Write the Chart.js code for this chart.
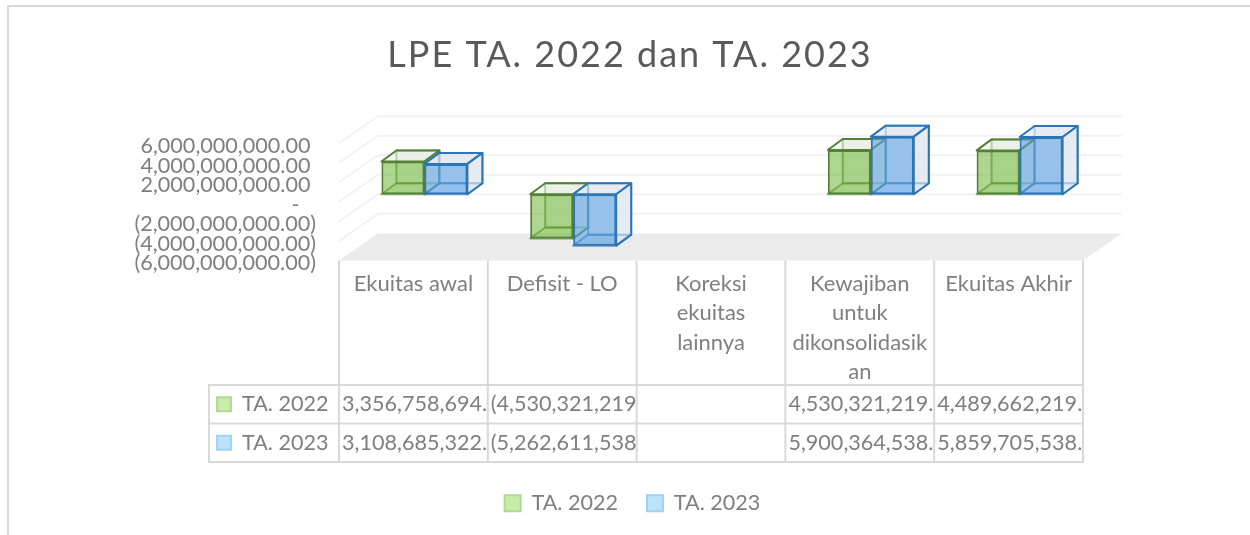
<!DOCTYPE html>
<html>
<head>
<meta charset="utf-8">
<style>
html, body { margin: 0; padding: 0; background: #fff; }
#wrap { width: 1250px; height: 535px; }
</style>
<script src="https://cdn.jsdelivr.net/npm/chart.js@4"></script>
</head>
<body>
<div id="wrap"><canvas id="lpe-chart"></canvas></div>
<script>
const chart_title = 'LPE TA. 2022 dan TA. 2023';
const categories = [
   ['Ekuitas awal'],
   ['Defisit - LO'],
   ['Koreksi', 'ekuitas', 'lainnya'],
   ['Kewajiban', 'untuk', 'dikonsolidasik', 'an'],
   ['Ekuitas Akhir']
];
const series_names = ['TA. 2022', 'TA. 2023'];
const values_2022 = [3356758694, -4530321219, null, 4530321219, 4489662219];
const values_2023 = [3108685322, -5262611538, null, 5900364538, 5859705538];
const tick_values = [6000000000, 4000000000, 2000000000, 0, -2000000000, -4000000000, -6000000000];

const font_name = 'Lato, "Noto Sans", sans-serif';
const text_grey = '#7f7f7f';
const line_grey = '#d9d9d9';

//wyglad pudelek 3d dla obu serii
const box_styles = [
   { edge: '#548235', front: 'rgba(108,180,53,0.55)', side: 'rgba(232,236,230,0.55)', key: '#c9eba8', keyEdge: '#b0d994' },
   { edge: '#2e75b6', front: 'rgba(92,162,228,0.6)', side: 'rgba(226,232,238,0.65)', key: '#bde3fa', keyEdge: '#9fd2f6' }
];

//przesuniecia glebi: cala podloga i pojedynczy slupek
const wall_dx = 39, wall_dy = -30;
const floor_lift = 3;
const box_dx = 15, box_dy = -11;
const bar_shift = 11;

function money(v) {
   return v.toLocaleString('en-US', { minimumFractionDigits: 2, maximumFractionDigits: 2 });
}

function tickText(v) {
   if (v === 0) return '-\u00a0\u00a0\u00a0';
   if (v < 0) return '(' + money(-v) + ')';
   return money(v) + '\u00a0';
}

function cellText(v) {
   if (v === null) return '';
   return v < 0 ? '(' + money(-v) + ')' : money(v);
}

function poly(ctx, pts) {
   ctx.beginPath();
   pts.forEach((p, i) => i ? ctx.lineTo(p[0], p[1]) : ctx.moveTo(p[0], p[1]));
   ctx.closePath();
}

//pudelko: tyl, dno, gora i bok, a na koncu przednia sciana z chart.js
function drawBox(chart, index) {
   const ctx = chart.ctx;
   const st = box_styles[index];
   const meta = chart.getDatasetMeta(index);
   ctx.save();
   ctx.lineWidth = 2;
   ctx.lineJoin = 'round';
   ctx.strokeStyle = st.edge;
   meta.data.forEach((bar, i) => {
      if (chart.data.datasets[index].data[i] === null) return;
      const p = bar.getProps(['x', 'y', 'base', 'width'], true);
      const l = p.x - p.width / 2, r = p.x + p.width / 2;
      const top = Math.min(p.y, p.base), bot = Math.max(p.y, p.base);
      const d = (x, yy) => [x + box_dx, yy + box_dy];
      ctx.fillStyle = st.side;
      poly(ctx, [d(l, top), d(r, top), d(r, bot), d(l, bot)]);
      ctx.fill();
      ctx.fillStyle = st.front;
      ctx.globalAlpha = 0.25;
      poly(ctx, [[l, bot], [r, bot], d(r, bot), d(l, bot)]);
      ctx.fill();
      ctx.globalAlpha = 0.7;
      poly(ctx, [d(l, top), d(r, top), d(r, bot), d(l, bot)]);
      ctx.stroke();
      poly(ctx, [[l, bot], [r, bot], d(r, bot), d(l, bot)]);
      ctx.stroke();
      ctx.globalAlpha = 1;
      ctx.fillStyle = st.side;
      poly(ctx, [[l, top], [r, top], d(r, top), d(l, top)]);
      ctx.fill();
      ctx.stroke();
      poly(ctx, [[r, top], [r, bot], d(r, bot), d(r, top)]);
      ctx.fill();
      ctx.stroke();
      bar.draw(ctx);
   });
   ctx.restore();
}

//tylne sciany, podloga i linie siatki
const wallPlugin = {
   id: 'wall',
   afterLayout(chart) {
      chart.legend.left += 5;
      //rozstrzelony tytul jak w oryginale
      const block = chart.titleBlock;
      if (!block.spaced) {
         const draw_title = block.draw.bind(block);
         block.spaced = true;
         block.draw = function() {
            chart.ctx.letterSpacing = '2px';
            draw_title();
            chart.ctx.letterSpacing = '0px';
         };
      }
   },
   beforeDatasetsDraw(chart) {
      const ctx = chart.ctx;
      const y = chart.scales.y;
      const left = chart.chartArea.left - bar_shift;
      const right = chart.chartArea.right - bar_shift;
      const floor_py = y.getPixelForValue(-6000000000);
      ctx.save();
      ctx.fillStyle = '#ebebeb';
      poly(ctx, [[left, floor_py - floor_lift], [right, floor_py - floor_lift], [right + wall_dx, floor_py + wall_dy], [left + wall_dx, floor_py + wall_dy]]);
      ctx.fill();
      ctx.strokeStyle = '#f2f2f2';
      ctx.lineWidth = 2;
      tick_values.forEach(v => {
         if (v === -6000000000) return;
         const py = y.getPixelForValue(v);
         ctx.beginPath();
         ctx.moveTo(left, py - floor_lift);
         ctx.lineTo(left + wall_dx, py + wall_dy);
         ctx.lineTo(right + wall_dx, py + wall_dy);
         ctx.stroke();
      });
      ctx.restore();
      //chart.js rysuje lewy slupek na wierzchu, tu potrzebna odwrotna kolejnosc
      drawBox(chart, 0);
      drawBox(chart, 1);
   },
   beforeDatasetDraw() {
      return false;
   },
   //ramka calego wykresu i tabela danych
   afterDraw(chart) {
      const ctx = chart.ctx;
      const left = chart.chartArea.left - bar_shift;
      const right = chart.chartArea.right - bar_shift;
      const cell = (right - left) / categories.length;
      const top = chart.scales.y.getPixelForValue(-6000000000) - floor_lift;
      const row_lines = [385, 423.5, 462];
      const head_left = 209;
      ctx.save();
      ctx.strokeStyle = line_grey;
      ctx.lineWidth = 2;
      ctx.beginPath();
      ctx.moveTo(8, 535); ctx.lineTo(8, 6); ctx.lineTo(1250, 6);
      for (let i = 0; i <= categories.length; i++) {
         ctx.moveTo(left + cell * i, top);
         ctx.lineTo(left + cell * i, row_lines[2] + 1);
      }
      row_lines.forEach(ry => { ctx.moveTo(head_left, ry); ctx.lineTo(right + 1, ry); });
      ctx.moveTo(head_left, row_lines[0] - 1);
      ctx.lineTo(head_left, row_lines[2] + 1);
      ctx.stroke();

      ctx.font = '21.6px ' + font_name;
      ctx.textBaseline = 'middle';
      ctx.fillStyle = text_grey;
      [values_2022, values_2023].forEach((vals, row) => {
         const cy = (row_lines[row] + row_lines[row + 1]) / 2;
         const st = box_styles[row];
         ctx.fillStyle = st.key;
         ctx.strokeStyle = st.keyEdge;
         ctx.fillRect(217, cy - 7, 14, 14);
         ctx.strokeRect(217, cy - 7, 14, 14);
         ctx.fillStyle = text_grey;
         ctx.textAlign = 'left';
         ctx.fillText(series_names[row], 242, cy);
         vals.forEach((v, i) => {
            let txt = cellText(v);
            //tekst przycinany do szerokosci komorki tak jak w tabeli excela
            while (txt && ctx.measureText(txt).width > cell - 3) txt = txt.slice(0, -1);
            ctx.fillText(txt, left + cell * i + 3, cy);
         });
      });
      ctx.restore();
   }
};

new Chart(document.getElementById('lpe-chart'), {
   type: 'bar',
   data: {
      labels: categories,
      datasets: [
         { label: series_names[0], data: values_2022, yAxisID: 'yBars', backgroundColor: box_styles[0].front, borderColor: box_styles[0].edge, borderWidth: 2, borderSkipped: false },
         { label: series_names[1], data: values_2023, yAxisID: 'yBars', backgroundColor: box_styles[1].front, borderColor: box_styles[1].edge, borderWidth: 2, borderSkipped: false }
      ]
   },
   options: {
      responsive: true,
      maintainAspectRatio: false,
      animation: false,
      layout: { padding: { left: 10, right: 0, top: 26, bottom: 11 } },
      datasets: { bar: { categoryPercentage: 0.578, barPercentage: 1 } },
      scales: {
         x: {
            grid: { display: false, drawTicks: false },
            border: { display: false },
            afterFit: s => { s.height = 200; },
            ticks: {
               autoSkip: false,
               maxRotation: 0,
               minRotation: 0,
               labelOffset: -bar_shift,
               padding: 6,
               color: text_grey,
               font: { family: font_name, size: 22, lineHeight: 1.33 }
            }
         },
         y: {
            position: 'left',
            min: -6000000000,
            max: 6000000000,
            afterFit: s => { s.width = 340; },
            afterBuildTicks: s => { s.ticks = tick_values.map(v => ({ value: v })); },
            grid: { display: false, drawTicks: false },
            border: { display: false },
            ticks: {
               autoSkip: false,
               padding: 34,
               color: text_grey,
               font: { family: font_name, size: 21.6 },
               callback: v => tickText(v)
            }
         },
         //ukryta os slupkow: ta sama skala, przesunieta w glab wykresu
         yBars: {
            position: 'right',
            min: -7080000000,
            max: 4920000000,
            afterFit: s => { s.width = 156; },
            grid: { display: false, drawTicks: false },
            border: { display: false },
            ticks: { display: false }
         }
      },
      plugins: {
         tooltip: { enabled: false },
         title: {
            display: true,
            text: chart_title,
            color: '#595959',
            padding: { top: 8, bottom: 69 },
            font: { family: font_name, size: 36, weight: 'normal' }
         },
         legend: {
            position: 'bottom',
            labels: {
               color: text_grey,
               font: { family: font_name, size: 21.6 },
               boxWidth: 16,
               boxHeight: 16,
               padding: 29,
               generateLabels: () => series_names.map((name, i) => ({
                  text: name,
                  fillStyle: box_styles[i].key,
                  strokeStyle: box_styles[i].keyEdge,
                  lineWidth: 2,
                  fontColor: text_grey,
                  datasetIndex: i
               }))
            }
         }
      }
   },
   plugins: [wallPlugin]
});
</script>
</body>
</html>
